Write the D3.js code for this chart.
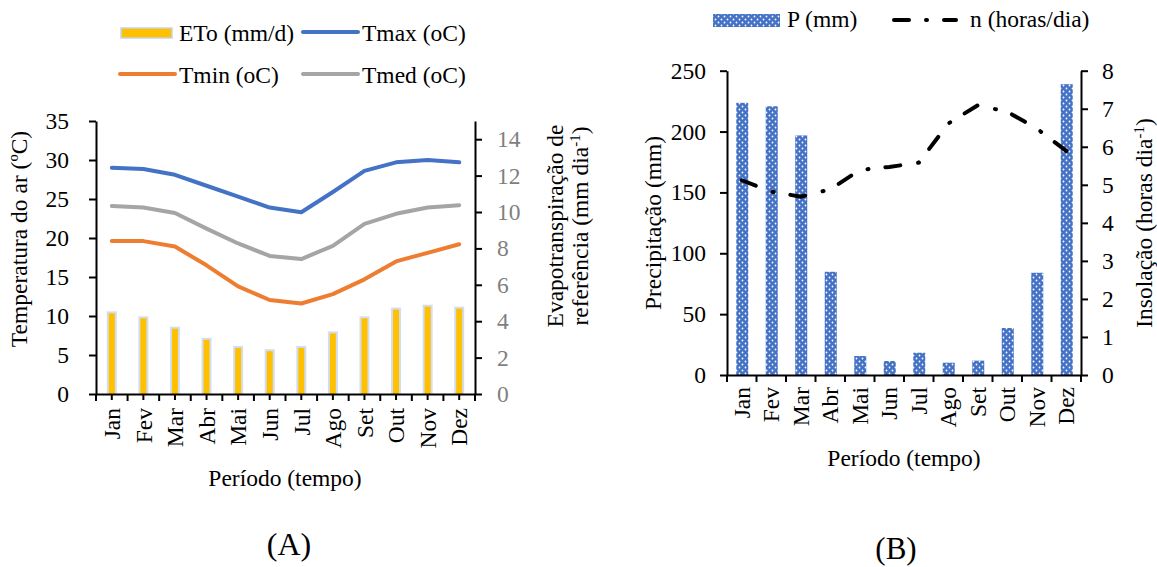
<!DOCTYPE html>
<html>
<head>
<meta charset="utf-8">
<script src="https://cdn.jsdelivr.net/npm/d3@7"></script>
<style>
  body { margin: 0; background: #fff; }
  svg text { font-family: "Liberation Serif", "DejaVu Serif", "Times New Roman", serif !important; }
</style>
</head>
<body>
<svg id="chart" width="1157" height="567"></svg>
<script>
// Data
var months = ["Jan", "Fev", "Mar", "Abr", "Mai", "Jun", "Jul", "Ago", "Set", "Out", "Nov", "Dez"];
var eto   = [4.43, 4.16, 3.59, 2.98, 2.53, 2.35, 2.53, 3.33, 4.16, 4.64, 4.80, 4.69];
var tmax  = [29.0, 28.85, 28.1, 26.7, 25.3, 23.9, 23.3, 25.9, 28.6, 29.7, 30.0, 29.7];
var tmed  = [24.1, 23.9, 23.2, 21.2, 19.3, 17.7, 17.3, 19.0, 21.8, 23.1, 23.9, 24.2];
var tmin  = [19.6, 19.6, 18.9, 16.5, 13.8, 12.05, 11.6, 12.8, 14.7, 17.0, 18.1, 19.2];
var precip = [223.6, 220.8, 196.8, 84.8, 15.6, 11.5, 18.3, 10.1, 11.8, 38.6, 84.0, 238.9];
var insol  = [5.12, 4.82, 4.69, 4.88, 5.39, 5.47, 5.58, 6.61, 7.09, 6.92, 6.48, 5.89];

var tempTicks = d3.range(0, 36, 5);
var etoTicks = d3.range(0, 15, 2);
var precipTicks = d3.range(0, 251, 50);
var insolTicks = d3.range(0, 9, 1);

var FS = 23.5;
var FONT = "'Liberation Serif', 'DejaVu Serif', serif";
var svg = d3.select("#chart").attr("font-family", FONT);

// dotted fill used for precipitation bars
var defs = svg.append("defs");
var pat = defs.append("pattern")
    .attr("id", "dots")
    .attr("width", 6).attr("height", 6)
    .attr("patternUnits", "userSpaceOnUse");
pat.append("rect").attr("width", 6).attr("height", 6).attr("fill", "#4472C4");
pat.append("circle").attr("cx", 1.5).attr("cy", 1.5).attr("r", 0.9).attr("fill", "#fff");
pat.append("circle").attr("cx", 4.5).attr("cy", 4.5).attr("r", 0.9).attr("fill", "#fff");

function styleAxis(g, color) {
  g.attr("font-family", FONT);
  g.select(".domain").attr("stroke", "#000").attr("stroke-width", 2);
  g.selectAll(".tick line").attr("stroke", "#000").attr("stroke-width", 2);
  g.selectAll(".tick text").attr("fill", color || "#000")
      .style("font-size", FS + "px");
}

function label(x, y, str, size, rot) {
  return svg.append("text")
      .attr("transform", "translate(" + x + "," + y + ")" + (rot ? " rotate(-90)" : ""))
      .attr("text-anchor", "middle")
      .style("font-family", FONT)
      .style("font-size", (size || FS) + "px")
      .text(str);
}

/* ---------------- Chart A ---------------- */
var xA = d3.scaleBand().domain(months).range([96, 475]);
var yA = d3.scaleLinear().domain([0, 35]).range([394, 121]);
var yA2 = d3.scaleLinear().domain([0, 15]).range([394, 121]);
var bwA = xA.bandwidth();

// ETo bars (glow + yellow)
var barsA = svg.append("g");
barsA.selectAll("rect.glow")
  .data(eto).enter().append("rect")
    .attr("class", "glow")
    .attr("x", function(d, i) { return xA(months[i]) + bwA / 2 - 5; })
    .attr("y", function(d) { return yA2(d) - 2; })
    .attr("width", 10)
    .attr("height", function(d) { return yA2(0) - yA2(d) + 2; })
    .attr("fill", "#d3ddf0");
barsA.selectAll("rect.bar")
  .data(eto).enter().append("rect")
    .attr("class", "bar")
    .attr("x", function(d, i) { return xA(months[i]) + bwA / 2 - 3; })
    .attr("y", function(d) { return yA2(d); })
    .attr("width", 6)
    .attr("height", function(d) { return yA2(0) - yA2(d); })
    .attr("fill", "#FFC000");

// temperature lines
var lineA = d3.line()
    .x(function(d, i) { return xA(months[i]) + bwA / 2; })
    .y(function(d) { return yA(d); });
[[tmin, "#ED7D31"], [tmed, "#A5A5A5"], [tmax, "#4472C4"]].forEach(function(s) {
  svg.append("path")
      .datum(s[0])
      .attr("d", lineA)
      .attr("fill", "none")
      .attr("stroke", s[1])
      .attr("stroke-width", 4)
      .attr("stroke-linejoin", "round")
      .attr("stroke-linecap", "round");
});

// axes A
var axLA = svg.append("g").attr("transform", "translate(96,0)")
    .call(d3.axisLeft(yA).tickValues(tempTicks).tickSize(7).tickSizeOuter(0).tickPadding(20));
styleAxis(axLA);
var axRA = svg.append("g").attr("transform", "translate(475,0)")
    .call(d3.axisRight(yA2).tickValues(etoTicks).tickSize(7).tickSizeOuter(0).tickPadding(15));
styleAxis(axRA, "#7f7f7f");

var axBA = svg.append("g").attr("transform", "translate(0,394)")
    .call(d3.axisBottom(xA).tickSize(6).tickSizeOuter(0));
styleAxis(axBA);
axBA.selectAll(".tick text")
    .attr("transform", "rotate(-90)")
    .attr("x", -14).attr("y", 0).attr("dy", "0.35em")
    .style("text-anchor", "end");
axBA.selectAll("line.bnd")
  .data(months.concat(["end"])).enter().append("line")
    .attr("class", "bnd")
    .attr("x1", function(d, i) { return i < 12 ? xA(d) : xA.range()[1]; })
    .attr("x2", function(d, i) { return i < 12 ? xA(d) : xA.range()[1]; })
    .attr("y1", 0).attr("y2", 7)
    .attr("stroke", "#000").attr("stroke-width", 2);

// titles A
label(27, 239, "Temperatura do ar (ºC)", FS, true);
var tA2 = svg.append("text")
    .attr("transform", "translate(563,226) rotate(-90)")
    .attr("text-anchor", "middle")
    .style("font-family", FONT)
    .style("font-size", FS + "px");
tA2.append("tspan").attr("x", 0).attr("dy", 0).text("Evapotranspiração de");
tA2.append("tspan").attr("x", 0).attr("dy", 25).text("referência (mm dia");
tA2.append("tspan").attr("dy", -8).style("font-size", "15px").text("-1");
tA2.append("tspan").attr("dy", 8).text(")");
label(285, 486, "Período (tempo)");
label(289, 555, "(A)", 32);

// legend A
var legA = svg.append("g").style("font-family", FONT).style("font-size", FS + "px");
legA.append("rect").attr("x", 121).attr("y", 28).attr("width", 51).attr("height", 10)
    .attr("fill", "#FFC000").attr("stroke", "#c5d3ec").attr("stroke-width", 1.5);
legA.append("text").attr("x", 179).attr("y", 41).text("ETo (mm/d)");
[["#4472C4", 303, 32, "Tmax (oC)", 362, 41],
 ["#ED7D31", 120, 74, "Tmin (oC)", 179, 82.5],
 ["#A5A5A5", 303, 74, "Tmed (oC)", 362, 82.5]].forEach(function(l) {
  legA.append("line").attr("x1", l[1]).attr("x2", l[1] + 55).attr("y1", l[2]).attr("y2", l[2])
      .attr("stroke", l[0]).attr("stroke-width", 4).attr("stroke-linecap", "round");
  legA.append("text").attr("x", l[4]).attr("y", l[5]).text(l[3]);
});

/* ---------------- Chart B ---------------- */
var xB = d3.scaleBand().domain(months).range([727, 1081]);
var yB = d3.scaleLinear().domain([0, 250]).range([375, 70.7]);
var yB2 = d3.scaleLinear().domain([0, 8]).range([375, 70.7]);
var bwB = xB.bandwidth();

svg.append("g").selectAll("rect")
  .data(precip).enter().append("rect")
    .attr("x", function(d, i) { return xB(months[i]) + bwB / 2 - 5.5; })
    .attr("y", function(d) { return yB(d); })
    .attr("width", 12)
    .attr("height", function(d) { return yB(0) - yB(d); })
    .attr("fill", "url(#dots)");

var lineB = d3.line()
    .x(function(d, i) { return xB(months[i]) + bwB / 2; })
    .y(function(d) { return yB2(d); });
svg.append("path")
    .datum(insol)
    .attr("d", lineB)
    .attr("fill", "none")
    .attr("stroke", "#000")
    .attr("stroke-width", 4)
    .attr("stroke-linecap", "round")
    .attr("stroke-dasharray", "15,18,1,17");

var axLB = svg.append("g").attr("transform", "translate(727,0)")
    .call(d3.axisLeft(yB).tickValues(precipTicks).tickSize(7).tickSizeOuter(0).tickPadding(14));
styleAxis(axLB);
var axRB = svg.append("g").attr("transform", "translate(1081,0)")
    .call(d3.axisRight(yB2).tickValues(insolTicks).tickSize(7).tickSizeOuter(0).tickPadding(14));
styleAxis(axRB);

var axBB = svg.append("g").attr("transform", "translate(0,375)")
    .call(d3.axisBottom(xB).tickSize(0).tickSizeOuter(0));
styleAxis(axBB);
axBB.selectAll(".tick text")
    .attr("transform", "rotate(-90)")
    .attr("x", -12).attr("y", 0).attr("dy", "0.35em")
    .style("text-anchor", "end");
axBB.selectAll("line.bnd")
  .data(months.concat(["end"])).enter().append("line")
    .attr("class", "bnd")
    .attr("x1", function(d, i) { return i < 12 ? xB(d) : xB.range()[1]; })
    .attr("x2", function(d, i) { return i < 12 ? xB(d) : xB.range()[1]; })
    .attr("y1", 0).attr("y2", 7)
    .attr("stroke", "#000").attr("stroke-width", 2);

label(661, 223, "Precipitação (mm)", FS, true);
var tB2 = svg.append("text")
    .attr("transform", "translate(1152,223) rotate(-90)")
    .attr("text-anchor", "middle")
    .style("font-family", FONT)
    .style("font-size", FS + "px");
tB2.append("tspan").text("Insolação (horas dia");
tB2.append("tspan").attr("dy", -8).style("font-size", "15px").text("-1");
tB2.append("tspan").attr("dy", 8).text(")");
label(904, 466, "Período (tempo)");
label(896, 559, "(B)", 31);

// legend B
var legB = svg.append("g").style("font-family", FONT).style("font-size", FS + "px");
legB.append("rect").attr("x", 713).attr("y", 14).attr("width", 67).attr("height", 13)
    .attr("fill", "url(#dots)");
legB.append("text").attr("x", 787).attr("y", 27).text("P (mm)");
legB.append("line").attr("x1", 894).attr("x2", 956).attr("y1", 20).attr("y2", 20)
    .attr("stroke", "#000").attr("stroke-width", 4).attr("stroke-linecap", "round")
    .attr("stroke-dasharray", "15,17,1,17");
legB.append("text").attr("x", 970).attr("y", 27).text("n (horas/dia)");
</script>
</body>
</html>
